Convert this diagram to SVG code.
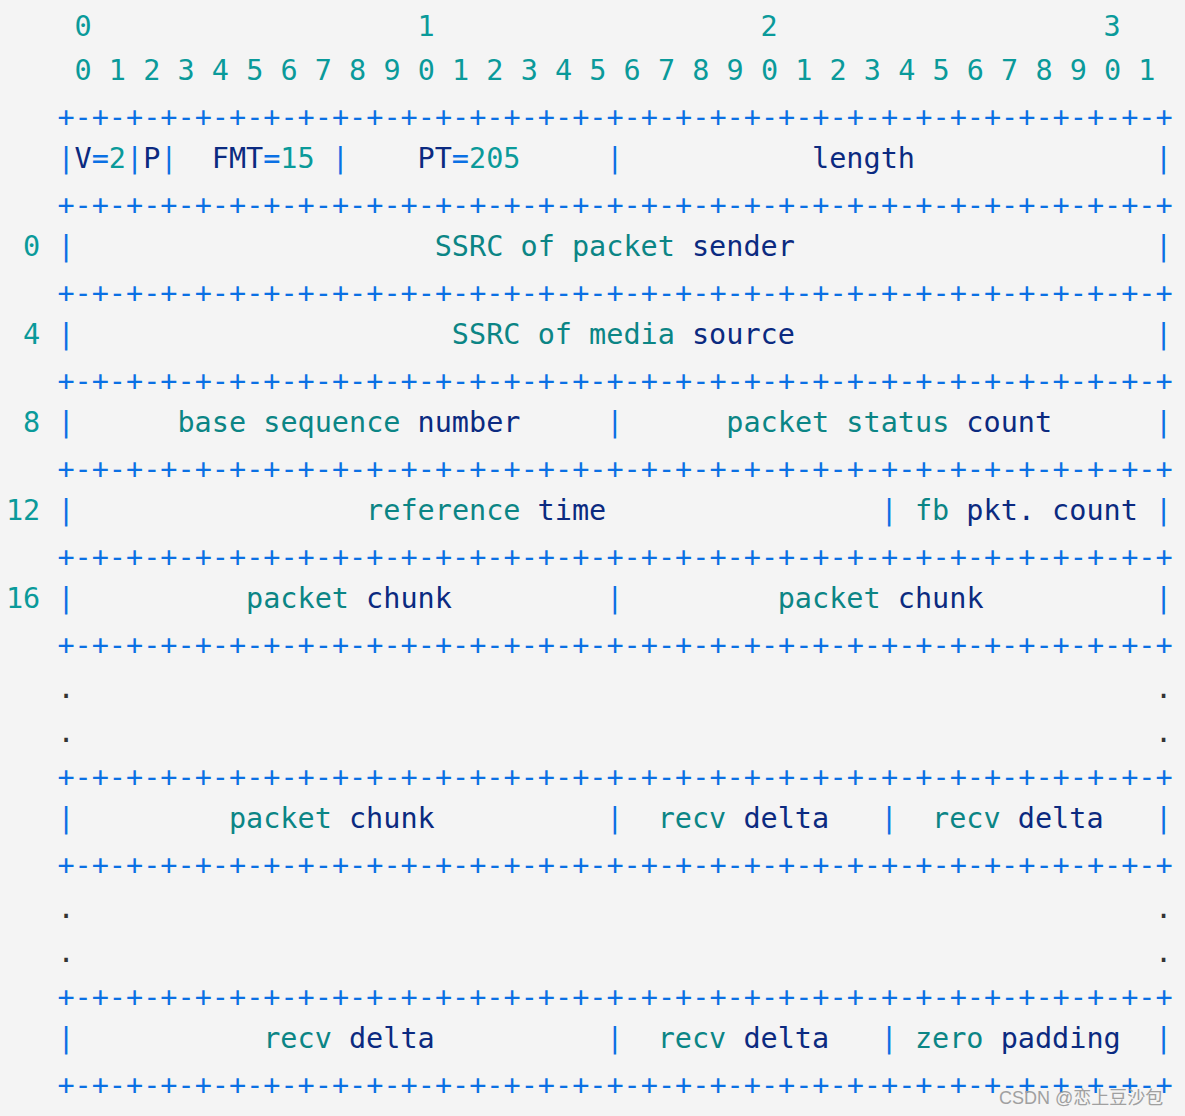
<svg xmlns="http://www.w3.org/2000/svg" width="1185" height="1116" viewBox="0 0 1185 1116" xml:space="preserve">
<style>
text{font-family:"DejaVu Sans Mono","Liberation Mono",monospace;font-size:28.5px;white-space:pre}
.n{fill:#0a9a9a}
.w{fill:#0b8585}
.k{fill:#0b2a80}
.b{fill:#0a70e4}
.d{fill:#333333}
.wm{font-family:"Liberation Sans","Noto Sans CJK SC",sans-serif;font-size:18px;fill:#a0a0a0;white-space:normal}
</style>
<rect width="1185" height="1116" fill="#f4f4f4"/>
<g id="header">
<text y="36" class="n"><tspan x="74.55">0</tspan><tspan x="417.55">1</tspan><tspan x="760.55">2</tspan><tspan x="1103.55">3</tspan></text>
<text x="74.55" y="80" class="n">0 1 2 3 4 5 6 7 8 9 0 1 2 3 4 5 6 7 8 9 0 1 2 3 4 5 6 7 8 9 0 1</text>
</g>
<g id="separators" class="b">
<text x="57.4" y="127" class="b">+-+-+-+-+-+-+-+-+-+-+-+-+-+-+-+-+-+-+-+-+-+-+-+-+-+-+-+-+-+-+-+-+</text>
<text x="57.4" y="215" class="b">+-+-+-+-+-+-+-+-+-+-+-+-+-+-+-+-+-+-+-+-+-+-+-+-+-+-+-+-+-+-+-+-+</text>
<text x="57.4" y="303" class="b">+-+-+-+-+-+-+-+-+-+-+-+-+-+-+-+-+-+-+-+-+-+-+-+-+-+-+-+-+-+-+-+-+</text>
<text x="57.4" y="391" class="b">+-+-+-+-+-+-+-+-+-+-+-+-+-+-+-+-+-+-+-+-+-+-+-+-+-+-+-+-+-+-+-+-+</text>
<text x="57.4" y="479" class="b">+-+-+-+-+-+-+-+-+-+-+-+-+-+-+-+-+-+-+-+-+-+-+-+-+-+-+-+-+-+-+-+-+</text>
<text x="57.4" y="567" class="b">+-+-+-+-+-+-+-+-+-+-+-+-+-+-+-+-+-+-+-+-+-+-+-+-+-+-+-+-+-+-+-+-+</text>
<text x="57.4" y="655" class="b">+-+-+-+-+-+-+-+-+-+-+-+-+-+-+-+-+-+-+-+-+-+-+-+-+-+-+-+-+-+-+-+-+</text>
<text x="57.4" y="787" class="b">+-+-+-+-+-+-+-+-+-+-+-+-+-+-+-+-+-+-+-+-+-+-+-+-+-+-+-+-+-+-+-+-+</text>
<text x="57.4" y="875" class="b">+-+-+-+-+-+-+-+-+-+-+-+-+-+-+-+-+-+-+-+-+-+-+-+-+-+-+-+-+-+-+-+-+</text>
<text x="57.4" y="1007" class="b">+-+-+-+-+-+-+-+-+-+-+-+-+-+-+-+-+-+-+-+-+-+-+-+-+-+-+-+-+-+-+-+-+</text>
<text x="57.4" y="1095" class="b">+-+-+-+-+-+-+-+-+-+-+-+-+-+-+-+-+-+-+-+-+-+-+-+-+-+-+-+-+-+-+-+-+</text>
</g>
<g id="row-header">
<text y="168"><tspan x="57.4" class="b">|</tspan><tspan x="74.55" class="k">V</tspan><tspan x="91.7" class="b">=</tspan><tspan x="108.85" class="n">2</tspan><tspan x="126" class="b">|</tspan><tspan x="143.15" class="k">P</tspan><tspan x="160.3" class="b">|</tspan><tspan x="211.75" class="k">FMT</tspan><tspan x="263.2" class="b">=</tspan><tspan x="280.35" class="n">15</tspan><tspan x="331.8" class="b">|</tspan><tspan x="417.55" class="k">PT</tspan><tspan x="451.85" class="b">=</tspan><tspan x="469" class="n">205</tspan><tspan x="606.2" class="b">|</tspan><tspan x="812" class="k">length</tspan><tspan x="1155" class="b">|</tspan></text>
</g>
<g id="row-0">
<text y="256"><tspan x="23.1" class="n">0</tspan><tspan x="57.4" class="b">|</tspan><tspan x="434.7" class="w">SSRC of packet</tspan><tspan x="691.95" class="k">sender</tspan><tspan x="1155" class="b">|</tspan></text>
</g>
<g id="row-4">
<text y="344"><tspan x="23.1" class="n">4</tspan><tspan x="57.4" class="b">|</tspan><tspan x="451.85" class="w">SSRC of media</tspan><tspan x="691.95" class="k">source</tspan><tspan x="1155" class="b">|</tspan></text>
</g>
<g id="row-8">
<text y="432"><tspan x="23.1" class="n">8</tspan><tspan x="57.4" class="b">|</tspan><tspan x="177.45" class="w">base sequence</tspan><tspan x="417.55" class="k">number</tspan><tspan x="606.2" class="b">|</tspan><tspan x="726.25" class="w">packet status</tspan><tspan x="966.35" class="k">count</tspan><tspan x="1155" class="b">|</tspan></text>
</g>
<g id="row-12">
<text y="520"><tspan x="5.95" class="n">12</tspan><tspan x="57.4" class="b">|</tspan><tspan x="366.1" class="w">reference</tspan><tspan x="537.6" class="k">time</tspan><tspan x="880.6" class="b">|</tspan><tspan x="914.9" class="w">fb</tspan><tspan x="966.35" class="k">pkt.</tspan><tspan x="1052.1" class="k">count</tspan><tspan x="1155" class="b">|</tspan></text>
</g>
<g id="row-16">
<text y="608"><tspan x="5.95" class="n">16</tspan><tspan x="57.4" class="b">|</tspan><tspan x="246.05" class="w">packet</tspan><tspan x="366.1" class="k">chunk</tspan><tspan x="606.2" class="b">|</tspan><tspan x="777.7" class="w">packet</tspan><tspan x="897.75" class="k">chunk</tspan><tspan x="1155" class="b">|</tspan></text>
</g>
<g id="ellipsis-1" class="d">
<text y="698" class="d"><tspan x="57.4">.</tspan><tspan x="1155">.</tspan></text>
<text y="742" class="d"><tspan x="57.4">.</tspan><tspan x="1155">.</tspan></text>
</g>
<g id="row-chunk-delta">
<text y="828"><tspan x="57.4" class="b">|</tspan><tspan x="228.9" class="w">packet</tspan><tspan x="348.95" class="k">chunk</tspan><tspan x="606.2" class="b">|</tspan><tspan x="657.65" class="w">recv</tspan><tspan x="743.4" class="k">delta</tspan><tspan x="880.6" class="b">|</tspan><tspan x="932.05" class="w">recv</tspan><tspan x="1017.8" class="k">delta</tspan><tspan x="1155" class="b">|</tspan></text>
</g>
<g id="ellipsis-2" class="d">
<text y="918" class="d"><tspan x="57.4">.</tspan><tspan x="1155">.</tspan></text>
<text y="962" class="d"><tspan x="57.4">.</tspan><tspan x="1155">.</tspan></text>
</g>
<g id="row-delta-padding">
<text y="1048"><tspan x="57.4" class="b">|</tspan><tspan x="263.2" class="w">recv</tspan><tspan x="348.95" class="k">delta</tspan><tspan x="606.2" class="b">|</tspan><tspan x="657.65" class="w">recv</tspan><tspan x="743.4" class="k">delta</tspan><tspan x="880.6" class="b">|</tspan><tspan x="914.9" class="w">zero</tspan><tspan x="1000.65" class="k">padding</tspan><tspan x="1155" class="b">|</tspan></text>
</g>
<text x="999" y="1104" class="wm">CSDN @恋上豆沙包</text>
</svg>
